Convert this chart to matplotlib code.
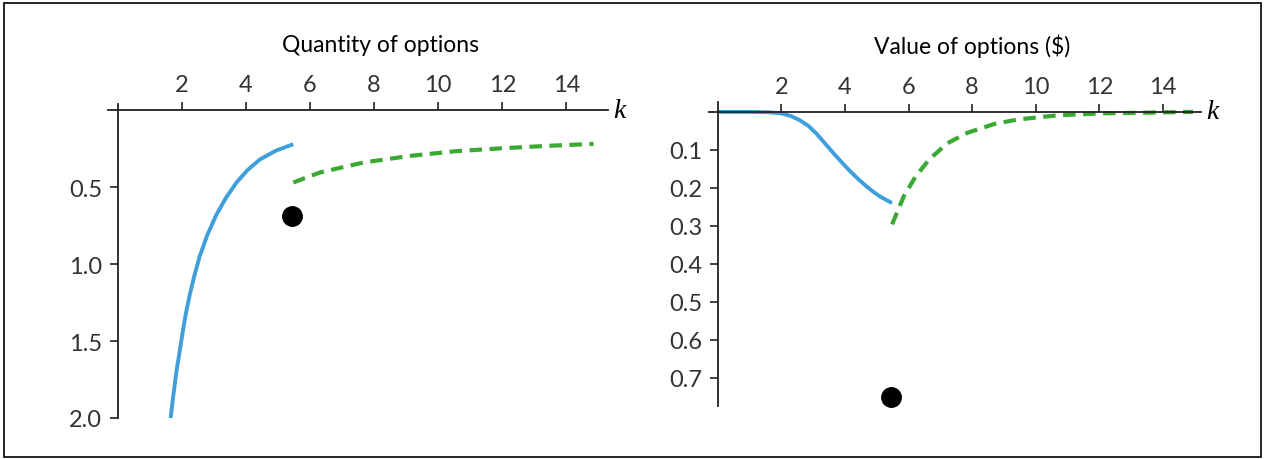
import matplotlib
matplotlib.use("Agg")
import matplotlib.pyplot as plt
from matplotlib.patches import Rectangle

# quantity of options, solid part (k below the kink)
qty_k_low = [1.65, 1.74, 1.83, 1.93, 2.04, 2.14, 2.25, 2.40, 2.56, 2.80, 3.08, 3.38,
             3.71, 4.05, 4.44, 4.95, 5.48]
qty_low = [2.006, 1.85, 1.705, 1.575, 1.43, 1.31, 1.20, 1.07, 0.95, 0.81, 0.68, 0.57,
           0.47, 0.39, 0.32, 0.262, 0.221]
# quantity of options, dashed part
qty_k_high = [5.48, 6.31, 7.67, 9.13, 10.58, 12.04, 13.4, 14.85]
qty_high = [0.47, 0.405, 0.34, 0.297, 0.266, 0.247, 0.232, 0.219]
qty_dot_k = [5.45]
qty_dot = [0.69]

# value of options, solid part
val_k_low = [0.0, 1.0, 1.6, 2.0, 2.3, 2.58, 2.85, 3.11, 3.37, 3.63, 3.9, 4.16, 4.43,
             4.69, 4.9, 5.11, 5.3, 5.48]
val_low = [0.0, 0.0, 0.001, 0.004, 0.011, 0.022, 0.037, 0.058, 0.083, 0.108, 0.133,
           0.156, 0.178, 0.197, 0.211, 0.223, 0.232, 0.24]
# value of options, dashed part
val_k_high = [5.48, 5.85, 6.22, 6.64, 7.21, 7.85, 8.69, 9.43, 10.69, 12.05, 13.5, 14.95]
val_high = [0.296, 0.222, 0.17, 0.126, 0.083, 0.055, 0.032, 0.02, 0.009, 0.004, 0.002, 0.0]
val_dot_k = [5.46]
val_dot = [0.75]

x_ticks = [2, 4, 6, 8, 10, 12, 14]
qty_ticks = [0.5, 1.0, 1.5, 2.0]
val_ticks = [0.1, 0.2, 0.3, 0.4, 0.5, 0.6, 0.7]

blue = "#3f9fdb"
green = "#3aa933"
font = "Lato"

fig = plt.figure(figsize=(12.65, 4.6), dpi=100)
fig.patches.append(Rectangle((4 / 1265, 2 / 460), 1257 / 1265, 454 / 460, transform=fig.transFigure,
                             fill=False, edgecolor="black", linewidth=1.2))


def style_axes(ax, yticks, ylabels):
    ax.spines["top"].set_position(("data", 0))
    ax.spines["left"].set_position(("data", 0))
    ax.spines["bottom"].set_visible(False)
    ax.spines["right"].set_visible(False)
    for s in ("top", "left"):
        ax.spines[s].set_linewidth(1.3)
        ax.spines[s].set_color("#222222")
    ax.xaxis.tick_top()
    ax.set_xticks(x_ticks)
    ax.set_xticklabels([str(t) for t in x_ticks])
    ax.set_yticks(yticks)
    ax.set_yticklabels(ylabels)
    ax.tick_params(axis="both", direction="out", length=6, width=1.2, color="#222222",
                   labelsize=17, labelcolor="#333333", pad=5)
    for lab in ax.get_xticklabels() + ax.get_yticklabels():
        lab.set_fontfamily(font)
    ax.patch.set_visible(False)


# left panel
ax1 = fig.add_axes([108 / 1265, 41 / 460, 500 / 1265, 314 / 460])
ax1.plot(qty_k_low, qty_low, color=blue, linewidth=2.8, solid_capstyle="butt")
ax1.plot(qty_k_high, qty_high, color=green, linewidth=3, dashes=(3, 1.8))
ax1.plot(qty_dot_k, qty_dot, "o", color="black", markersize=14, clip_on=False)
ax1.set_xlim(-0.3, 15.3)
ax1.set_ylim(2.0, -0.04)
style_axes(ax1, qty_ticks, ["0.5", "1.0", "1.5", "2.0"])
ax1.text(15.45, 0, "k", fontsize=20, style="italic", family="Liberation Serif",
         va="center", ha="left")

# right panel
ax2 = fig.add_axes([709 / 1265, 53 / 460, 492 / 1265, 304 / 460])
ax2.plot(val_k_low, val_low, color=blue, linewidth=2.8, solid_capstyle="butt")
ax2.plot(val_k_high, val_high, color=green, linewidth=3, dashes=(3, 1.8))
ax2.plot(val_dot_k, val_dot, "o", color="black", markersize=14, clip_on=False)
ax2.set_xlim(-0.28, 15.2)
ax2.set_ylim(0.774, -0.026)
style_axes(ax2, val_ticks, [str(t) for t in val_ticks])
ax2.text(15.35, 0, "k", fontsize=20, style="italic", family="Liberation Serif",
         va="center", ha="left")

fig.text(380 / 1265, 1 - 46 / 460, "Quantity of options", fontsize=16.5, family=font,
         ha="center", va="center")
fig.text(972 / 1265, 1 - 46 / 460, "Value of options ($)", fontsize=16.5, family=font,
         ha="center", va="center")

fig.savefig("out.png", dpi=100)
